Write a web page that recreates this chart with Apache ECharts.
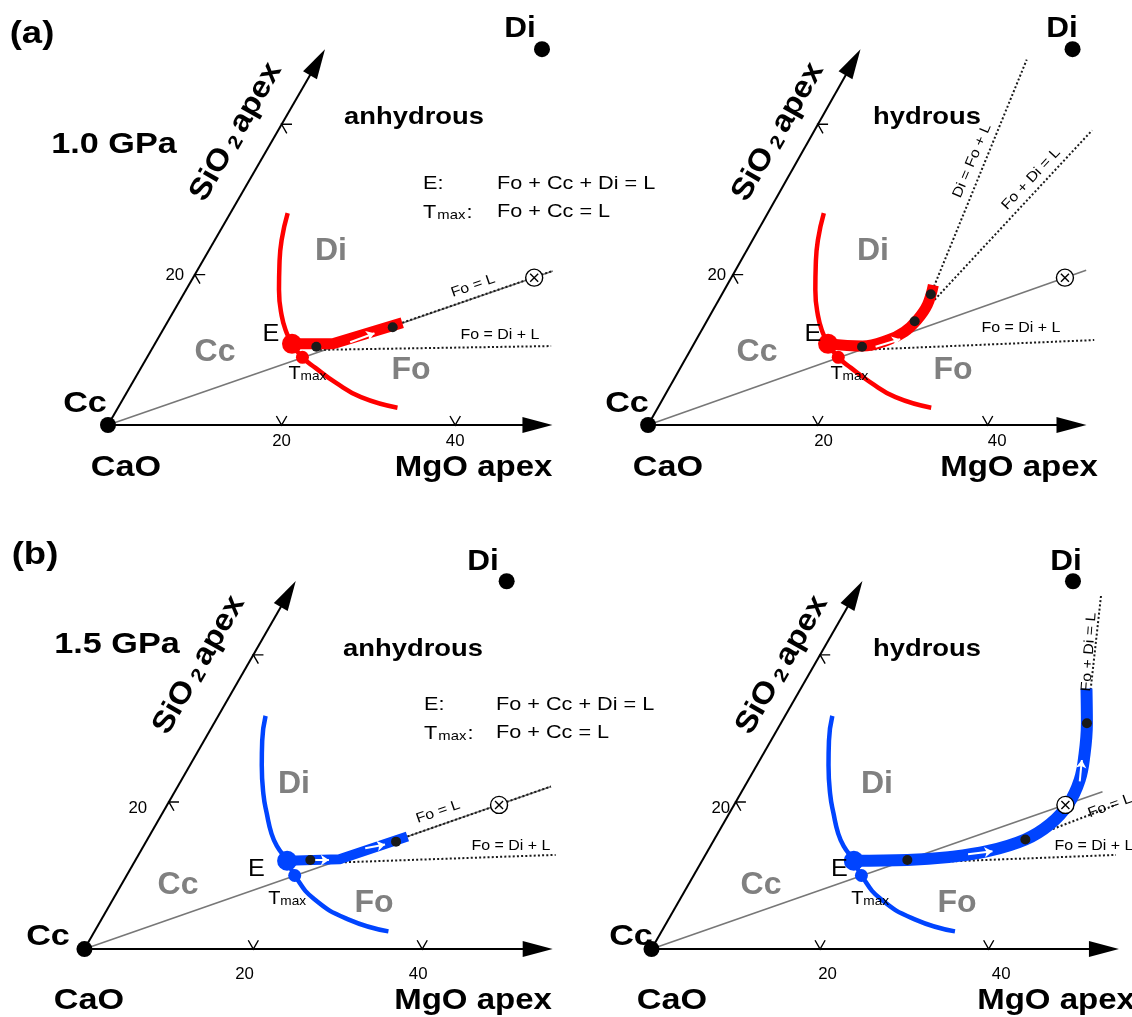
<!DOCTYPE html>
<html>
<head>
<meta charset="UTF-8">
<title>CaO-MgO-SiO2 projections</title>
<script src="https://cdn.jsdelivr.net/npm/echarts@6.0.0/dist/echarts.min.js"></script>
<style>html,body{margin:0;padding:0;background:#fff}</style>
</head>
<body>
<div id="charts" style="width:1132px;height:1017px"></div>
<script type="text/javascript">
// compositions are mol% [MgO, SiO2], CaO is the rest
var Di = [25, 50];
var bulk = [39.3, 19.6];            // starting composition (circled x)
var tickVals = [20, 40];
var mgoTickLabels = ['20', '40'];
var sioTickLabels = ['20', ''];
var sioEnd = 50;

// Cc/Di and Cc/Fo field boundaries
var cot10 = [[6.6,28.2],[7.7,24.6],[9.1,21.3],[10.7,18.0],[12.7,14.6],[14.5,12.2],[15.8,10.8],[17.9,9.0],[20.1,7.6],[23.3,5.7],[27.3,3.7],[32.2,2.3]];
var cot15 = [[5.6,31.7],[6.9,28.3],[8.5,25.0],[10.7,21.0],[12.4,18.4],[14.3,15.7],[15.8,14.0],[18.0,12.0],[19.9,10.0],[23.8,6.8],[29.3,4.0],[34.8,2.4]];
var E10 = [15.8, 10.8], Tmax10 = [17.9, 9.0];
var E15 = [18.0, 12.0], Tmax15 = [19.9, 10.0];

// liquid paths
var path10dry = [[15.8,10.8],[20.5,10.8],[27.1,13.6]];
var path10wet = [[15.8,10.8],[20.0,10.5],[22.6,11.3],[24.0,12.4],[24.7,14.0],[24.9,16.0],[24.3,18.6]];
var path15dry = [[18.0,12.0],[24.1,12.2],[30.6,15.3]];
var path15wet = [[18.0,12.0],[24.3,12.1],[29.0,12.5],[33.2,13.3],[36.9,14.9],[38.8,17.0],[39.6,19.7],[39.3,23.0],[38.2,26.3],[36.3,30.7],[33.9,35.4]];
var dots10dry = [[18.8,10.4],[26.3,13.0]];
var dots10wet = [[20.0,10.4],[24.5,13.8],[24.6,17.4]];
var dots15dry = [[20.7,12.1],[29.6,14.6]];
var dots15wet = [[24.3,12.1],[36.9,14.9],[36.3,30.7]];
var arrows10dry = [[[22.4,11.0],[24.6,12.2]]];
var arrows10wet = [[[21.6,10.4],[24.0,11.4]]];
var arrows15dry = [[[21.2,12.1],[22.9,12.1]],[[26.4,13.7],[28.5,14.2]]];
var arrows15wet = [[[31.1,12.9],[33.8,13.3]],[[39.4,22.8],[38.2,25.7]]];

// dotted reaction boundaries
var foL10dry = [[27.1,13.6],[41.0,20.5]];
var foDiL10dry = [[19.4,10.0],[45.8,10.5]];
var foDiL10wet = [[20.2,10.0],[46.9,11.3]];
var diFoL10wet = [[24.6,17.4],[20.3,48.6]];
var foDiEqL10wet = [[24.5,13.8],[32.7,39.2]];
var foL15dry = [[30.6,15.3],[44.2,22.1]];
var foDiL15dry = [[22.5,11.7],[49.4,12.8]];
var foDiL15wet = [[24.8,11.7],[48.7,12.8]];
var foL15wet = [[36.9,14.9],[45.3,19.6]];
var foDiEqL15wet = [[36.3,30.7],[29.2,48.3]];

var RED = '#ff0000', BLUE = '#0044ff', GRAY = '#808080';
var K = 8.68;                 // px per mol% along each ternary axis
var R3 = Math.sqrt(3) / 2;
var XMIN = -10, XMAX = 57, YMIN = -8, YMAX = 48;
var AH = 15 / K;              // half arrow head length
var F = '"Liberation Sans", Arial, sans-serif';
var SX = 1.14;

var tmaxRich = {
  t: {fontSize: 19, fontFamily: F, lineHeight: 20, verticalAlign: 'bottom', fill: '#000'},
  s: {fontSize: 13, fontFamily: F, lineHeight: 2, verticalAlign: 'bottom', fill: '#000'}
};
var tmaxLegRich = {
  t: {fontSize: 19, fontFamily: F, lineHeight: 20, verticalAlign: 'bottom', fill: '#000'},
  s: {fontSize: 13, fontFamily: F, lineHeight: 1, verticalAlign: 'bottom', fill: '#000', padding: [0, 1, 0, 1]}
};
var sioRich = {
  a: {fontSize: 30, fontFamily: F, fontWeight: 'bold', lineHeight: 30, verticalAlign: 'bottom', fill: '#000'},
  b: {fontSize: 19, fontFamily: F, fontWeight: 'bold', lineHeight: 12, verticalAlign: 'bottom', fill: '#000', padding: [0, 5, 0, 5]}
};

var panels = [
  {ox:108, oy:425, col:RED, cot:cot10, E:E10, T:Tmax10, path:path10dry, pw:11, smooth:false,
   dots:dots10dry, join:[41.0,20.5], dotted:[foL10dry, foDiL10dry], arrows:arrows10dry, mgoEnd:51.2,
   eOff:[-21,-9], tOff:[-8,16],
   labels:[[32,34,'(a)',32,{bold:1}],[114,145,'1.0 GPa',30,{bold:1}],[414,117,'anhydrous',24,{bold:1}],
     [423,184,'E:',19,{align:'left'}],[497,184,'Fo + Cc + Di = L',19,{align:'left'}],
     [423,212,'{t|T}{s|max}{t|:}',19,{align:'left',rich:tmaxLegRich}],[497,212,'Fo + Cc = L',19,{align:'left'}],
     [473,286,'Fo = L',14,{rot:19}],[500,335,'Fo = Di + L',14]]},
  {ox:650, oy:425, col:RED, cot:cot10, E:E10, T:Tmax10, path:path10wet, pw:11, smooth:true,
   dots:dots10wet, join:[41.3,20.6], dotted:[foDiL10wet, diFoL10wet, foDiEqL10wet], arrows:arrows10wet, mgoEnd:51.6,
   eOff:[-21,-9], tOff:[-8,16],
   labels:[[927,117,'hydrous',24,{bold:1}],[972,161,'Di = Fo + L',14,{rot:67}],
     [1031,179,'Fo + Di = L',14,{rot:47}],[1021,328,'Fo = Di + L',14]]},
  {ox:71, oy:958, col:BLUE, cot:cot15, E:E15, T:Tmax15, path:path15dry, pw:10, smooth:false,
   dots:dots15dry, join:[44.2,22.1], dotted:[foL15dry, foDiL15dry], arrows:arrows15dry, mgoEnd:55.4,
   eOff:[-23,2], tOff:[-13,15],
   labels:[[35,555,'(b)',32,{bold:1}],[117,645,'1.5 GPa',30,{bold:1}],[413,649,'anhydrous',24,{bold:1}],
     [424,705,'E:',19,{align:'left'}],[496,705,'Fo + Cc + Di = L',19,{align:'left'}],
     [424,733,'{t|T}{s|max}{t|:}',19,{align:'left',rich:tmaxLegRich}],[496,733,'Fo + Cc = L',19,{align:'left'}],
     [438,812,'Fo = L',14,{rot:19}],[511,846,'Fo = Di + L',14]]},
  {ox:654, oy:958, col:BLUE, cot:cot15, E:E15, T:Tmax15, path:path15wet, pw:12, smooth:true,
   dots:dots15wet, join:[42.8,21.4], dotted:[foDiL15wet, foL15wet, foDiEqL15wet], arrows:arrows15wet, mgoEnd:55.4,
   eOff:[-23,2], tOff:[-13,15],
   labels:[[927,649,'hydrous',24,{bold:1}],[1089,652,'Fo + Di = L',14,{rot:86}],
     [1110,806,'Fo = L',14,{rot:20}],[1094,846,'Fo = Di + L',14]]}
];

function P(c) { return [c[0] + c[1] / 2, c[1] * R3]; }
function PL(a) { return a.map(P); }
function px(p, c) { var q = P(c); return [p.ox + q[0] * K, p.oy - q[1] * K]; }
function S(i, o) { o.xAxisIndex = i; o.yAxisIndex = i; o.silent = true; return o; }
function T(x, y, text, size, o) {
  o = o || {};
  var st = {text: text, fill: o.color || '#000', fontSize: size, fontFamily: F,
    fontWeight: o.bold ? 'bold' : 'normal', align: o.align || 'center', verticalAlign: 'middle'};
  if (o.rich) st.rich = o.rich;
  return {type: 'text', x: x, y: y, rotation: (o.rot || 0) * Math.PI / 180,
    scaleX: o.sx || SX, z: 100, silent: true, style: st};
}

var option = {animation: false, backgroundColor: '#fff', grid: [], xAxis: [], yAxis: [], series: [], graphic: []};

panels.forEach(function (p, i) {
  option.grid.push({left: p.ox + XMIN * K, top: p.oy - YMAX * K,
    width: (XMAX - XMIN) * K, height: (YMAX - YMIN) * K});
  option.xAxis.push({type: 'value', gridIndex: i, min: XMIN, max: XMAX, show: false});
  option.yAxis.push({type: 'value', gridIndex: i, min: YMIN, max: YMAX, show: false});
  var ser = option.series;

  // Cc - Fo join
  ser.push(S(i, {type: 'line', data: PL([[0, 0], p.join]), symbol: 'none',
    lineStyle: {color: '#777', width: 1.6}, z: 2}));
  // MgO and SiO2 axes
  ser.push(S(i, {type: 'lines', coordinateSystem: 'cartesian2d', polyline: true,
    data: [{coords: PL([[0, 0], [p.mgoEnd - AH, 0]])}, {coords: PL([[0, 0], [0, sioEnd - AH]])}],
    lineStyle: {color: '#000', width: 2, opacity: 1}, z: 3}));
  ser.push(S(i, {type: 'scatter', symbol: 'triangle', symbolSize: [16, 30],
    data: [{value: P([p.mgoEnd - AH, 0]), symbolRotate: -90}, {value: P([0, sioEnd - AH]), symbolRotate: -30}],
    itemStyle: {color: '#000', opacity: 1}, z: 3}));
  // tick chevrons
  var tk = [];
  tickVals.forEach(function (v) {
    tk.push({coords: PL([[v - 1.2, 1.2], [v, 0], [v, 1.2]])});
    tk.push({coords: PL([[1.2, v], [0, v], [1.2, v - 1.2]])});
  });
  ser.push(S(i, {type: 'lines', coordinateSystem: 'cartesian2d', polyline: true, data: tk,
    lineStyle: {color: '#000', width: 1.4, opacity: 1}, z: 3}));
  // field boundary
  ser.push(S(i, {type: 'line', data: PL(p.cot), symbol: 'none', smooth: 0.5,
    lineStyle: {color: p.col, width: 4.5, cap: 'butt'}, z: 4}));
  // dotted reactions
  ser.push(S(i, {type: 'lines', coordinateSystem: 'cartesian2d', polyline: true,
    data: p.dotted.map(function (d) { return {coords: PL(d)}; }),
    lineStyle: {color: '#1a1a1a', width: 2, type: [2, 2.2], opacity: 1}, z: 5}));
  // liquid path
  ser.push(S(i, {type: 'line', data: PL(p.path), symbol: 'none', smooth: p.smooth ? 0.4 : false,
    lineStyle: {color: p.col, width: p.pw, cap: 'butt', join: 'round'}, z: 6}));
  ser.push(S(i, {type: 'lines', coordinateSystem: 'cartesian2d',
    data: p.arrows.map(function (a) { return {coords: PL(a)}; }),
    symbol: ['none', 'arrow'], symbolSize: 8,
    lineStyle: {color: '#fff', width: 2, opacity: 1}, z: 7}));
  // points
  ser.push(S(i, {type: 'scatter', data: PL(p.dots), symbolSize: 10, itemStyle: {color: '#1a1a1a', opacity: 1}, z: 8}));
  ser.push(S(i, {type: 'scatter', data: [P(p.E)], symbolSize: 20, itemStyle: {color: p.col, opacity: 1}, z: 8}));
  ser.push(S(i, {type: 'scatter', data: [P(p.T)], symbolSize: 13, itemStyle: {color: p.col, opacity: 1}, z: 8}));
  ser.push(S(i, {type: 'scatter', data: [P([0, 0]), P(Di)], symbolSize: 16, itemStyle: {color: '#000', opacity: 1}, z: 8}));
  ser.push(S(i, {type: 'scatter', data: [P(bulk)], symbolSize: 17,
    itemStyle: {color: '#fff', borderColor: '#000', borderWidth: 1.4, opacity: 1}, z: 9}));
  ser.push(S(i, {type: 'scatter', data: [P(bulk)], symbol: 'path://M0,0L10,10M10,0L0,10', symbolSize: 8,
    itemStyle: {color: 'transparent', borderColor: '#000', borderWidth: 1.4, opacity: 1}, z: 10}));

  // texts
  var g = option.graphic;
  g.push(T(p.ox + 223, p.oy - 174, 'Di', 32, {bold: 1, color: GRAY, sx: 1}));
  g.push(T(p.ox + 107, p.oy - 73, 'Cc', 32, {bold: 1, color: GRAY, sx: 1}));
  g.push(T(p.ox + 303, p.oy - 55, 'Fo', 32, {bold: 1, color: GRAY, sx: 1}));
  g.push(T(p.ox - 23, p.oy - 21, 'Cc', 30, {bold: 1}));
  g.push(T(p.ox + 18, p.oy + 43, 'CaO', 30, {bold: 1}));
  g.push(T(p.ox + p.mgoEnd * K, p.oy + 43, 'MgO apex', 30, {bold: 1, align: 'right', sx: 1.1}));
  g.push(T(p.ox + 128, p.oy - 293, '{a|SiO}{b|2}{a|apex}', 30, {bold: 1, rot: 60, rich: sioRich, sx: 1.1}));
  tickVals.forEach(function (v, j) {
    g.push(T(p.ox + v * K, p.oy + 17, mgoTickLabels[j], 16, {sx: 1.05}));
    if (sioTickLabels[j]) {
      var q = px(p, [0, v]);
      g.push(T(q[0] - 20, q[1] + 1, sioTickLabels[j], 16, {sx: 1.05}));
    }
  });
  var d = px(p, Di);
  g.push(T(d[0] - 22, d[1] - 20, 'Di', 30, {bold: 1, sx: 1.05}));
  var e = px(p, p.E);
  g.push(T(e[0] + p.eOff[0], e[1] + p.eOff[1], 'E', 24, {sx: 1.05}));
  var t = px(p, p.T);
  g.push(T(t[0] + p.tOff[0] - 6, t[1] + p.tOff[1], '{t|T}{s|max}', 19, {align: 'left', rich: tmaxRich, sx: 1.05}));
  p.labels.forEach(function (l) {
    var o = l[4] || {};
    g.push(T(l[0], l[1], l[2], l[3], o));
  });
});

var mychart = echarts.init(document.getElementById('charts'));
mychart.setOption(option);
</script>
</body>
</html>
